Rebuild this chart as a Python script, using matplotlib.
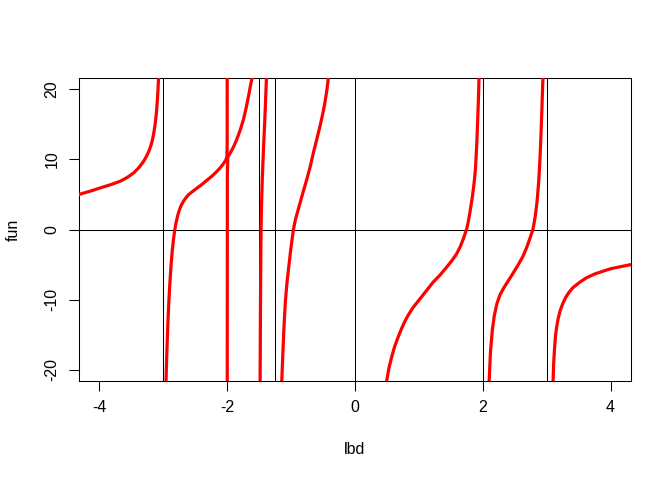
import matplotlib
matplotlib.use("Agg")
import matplotlib.pyplot as plt

# Curve segments (between poles)
seg1_x = [-4.36, -4.32, -4.15, -3.98, -3.82, -3.67, -3.56, -3.46, -3.38, -3.31, -3.26, -3.22, -3.19, -3.165, -3.145, -3.127, -3.112, -3.10, -3.09, -3.082, -3.075, -3.068]
seg1_y = [4.9, 5.0, 5.45, 5.95, 6.4, 6.9, 7.45, 8.1, 8.85, 9.7, 10.5, 11.3, 12.1, 13.0, 14.0, 15.1, 16.3, 17.6, 18.9, 20.2, 21.6, 24.0]

seg2_x = [-2.96, -2.958, -2.95, -2.94, -2.93, -2.915, -2.90, -2.88, -2.86, -2.84, -2.82, -2.80, -2.775, -2.75, -2.72, -2.68, -2.64, -2.60, -2.56, -2.48, -2.40, -2.32, -2.24, -2.16, -2.10, -2.05, -2.02, -2.005, -2.001, -2.0003]
seg2_y = [-23.0, -21.6, -19.0, -16.2, -13.6, -10.5, -8.0, -5.2, -3.0, -1.3, 0.0, 1.0, 2.0, 2.75, 3.45, 4.1, 4.6, 5.0, 5.3, 5.85, 6.4, 7.0, 7.6, 8.3, 8.9, 9.5, 9.95, 10.4, 12.0, 25.0]

seg3_x = [-1.9997, -1.998, -1.99, -1.95, -1.90, -1.85, -1.80, -1.745, -1.70, -1.667, -1.63, -1.61, -1.59]
seg3_y = [-25.0, 8.0, 10.35, 10.95, 11.8, 12.86, 14.1, 15.7, 17.5, 19.0, 20.8, 21.6, 23.0]

seg4_x = [-1.4868, -1.485, -1.48, -1.475, -1.47, -1.46, -1.45, -1.433, -1.41, -1.386, -1.38]
seg4_y = [-25.0, -21.6, -12.0, -5.0, 0.5, 4.5, 7.5, 11.4, 16.0, 21.6, 23.0]

seg5_x = [-1.15, -1.146, -1.13, -1.11, -1.09, -1.065, -1.04, -1.005, -0.964, -0.93, -0.89, -0.86, -0.81, -0.755, -0.70, -0.651, -0.60, -0.547, -0.50, -0.469, -0.44, -0.417, -0.40]
seg5_y = [-23.0, -21.6, -17.8, -13.6, -10.3, -7.6, -5.6, -2.8, 0.0, 1.5, 2.8, 3.8, 5.4, 7.14, 9.0, 10.95, 12.8, 14.76, 16.7, 18.2, 19.9, 21.6, 22.6]

seg6_x = [0.49, 0.495, 0.53, 0.573, 0.62, 0.677, 0.73, 0.78, 0.84, 0.911, 0.99, 1.068, 1.146, 1.224, 1.33, 1.432, 1.52, 1.589, 1.645, 1.693, 1.745, 1.77, 1.80, 1.839, 1.865, 1.885, 1.905, 1.92, 1.932, 1.941, 1.946]
seg6_y = [-23.0, -21.6, -19.8, -18.2, -16.7, -15.3, -14.1, -13.1, -12.1, -11.1, -10.2, -9.3, -8.4, -7.5, -6.5, -5.4, -4.4, -3.5, -2.5, -1.4, 0.0, 0.95, 2.5, 4.76, 6.7, 8.57, 12.0, 15.5, 18.6, 21.6, 23.5]

seg7_x = [2.097, 2.10, 2.12, 2.15, 2.18, 2.22, 2.27, 2.33, 2.40, 2.47, 2.55, 2.63, 2.69, 2.74, 2.785, 2.82, 2.85, 2.875, 2.895, 2.91, 2.925, 2.937, 2.943, 2.95]
seg7_y = [-23.0, -21.6, -17.5, -14.3, -12.3, -10.6, -9.3, -8.3, -7.3, -6.3, -5.1, -3.8, -2.5, -1.2, 0.0, 1.8, 4.0, 6.8, 10.0, 13.3, 17.0, 20.5, 21.6, 24.0]

seg8_x = [3.097, 3.10, 3.11, 3.125, 3.14, 3.16, 3.18, 3.21, 3.255, 3.30, 3.35, 3.41, 3.52, 3.62, 3.75, 3.88, 4.0, 4.14, 4.32, 4.36]
seg8_y = [-23.0, -21.6, -19.0, -16.7, -15.0, -13.7, -12.7, -11.6, -10.5, -9.65, -8.95, -8.3, -7.5, -6.9, -6.35, -5.95, -5.6, -5.33, -5.0, -4.95]

segments_x = [seg1_x, seg2_x, seg3_x, seg4_x, seg5_x, seg6_x, seg7_x, seg8_x]
segments_y = [seg1_y, seg2_y, seg3_y, seg4_y, seg5_y, seg6_y, seg7_y, seg8_y]

vlines_x = [-3, -2, -1.5, -1.25, 0, 2, 3]
hline_y = 0

x_ticks = [-4, -2, 0, 2, 4]
y_ticks = [-20, -10, 0, 10, 20]

plt.rcParams['font.family'] = ['Liberation Sans', 'DejaVu Sans']

fig = plt.figure(figsize=(6.72, 4.8), dpi=100)
ax = fig.add_axes([79/672, 99/480, 552/672, 303/480])

for xs, ys in zip(segments_x, segments_y):
    ax.plot(xs, ys, color='#ff0000', lw=2.3, solid_capstyle='butt',
            solid_joinstyle='round', zorder=3)

for v in vlines_x:
    ax.axvline(v, color='black', lw=0.75, zorder=2)
ax.axhline(hline_y, color='black', lw=0.75, zorder=2)

ax.set_xlim(-4.32, 4.32)
ax.set_ylim(-21.6, 21.6)
ax.set_xticks(x_ticks)
ax.set_yticks(y_ticks)
ax.set_xticklabels([str(t) for t in x_ticks])
ax.set_yticklabels([str(t) for t in y_ticks], rotation=90, va='center')
ax.tick_params(axis='both', direction='out', length=7, width=0.75, labelsize=11.5, color='black')
ax.tick_params(axis='x', pad=7)
ax.tick_params(axis='y', pad=7)
for s in ax.spines.values():
    s.set_linewidth(0.75)
    s.set_color('black')

ax.set_xlabel('lbd', fontsize=11.5, labelpad=19)
ax.set_ylabel('fun', fontsize=11.5, labelpad=17)

fig.savefig('out.png', dpi=100)
